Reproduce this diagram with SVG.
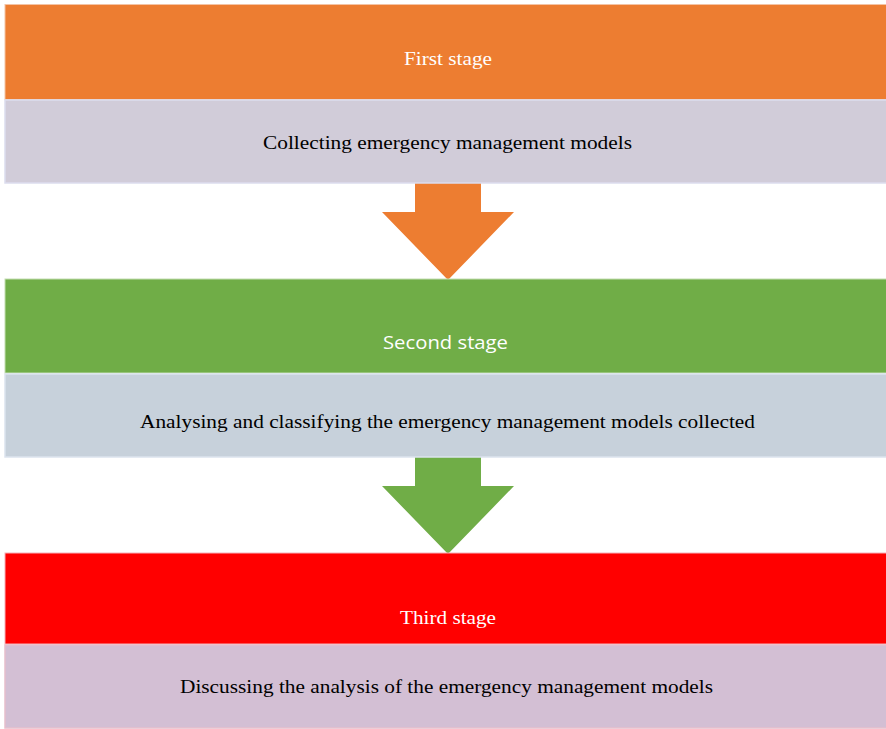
<svg xmlns="http://www.w3.org/2000/svg" width="886" height="729" viewBox="0 0 886 729">
<style>
.t{font-family:"Liberation Serif","Times New Roman",serif;font-size:18.5px;text-anchor:middle}
.s{font-family:"Open Sans","Noto Sans",sans-serif;font-size:19px;text-anchor:middle;fill:#fff}
.w{fill:#fff}
.k{fill:#000}
</style>
<rect width="886" height="729" fill="#fff"/>
<g id="connectors">
<polygon id="arrow1" points="415,183 481,183 481,212 514,212 448,280 382,212 415,212" fill="#ED7D31"/>
<polygon id="arrow2" points="415,457 481,457 481,486 514,486 448,554 382,486 415,486" fill="#70AD47"/>
</g>
<g id="stage1">
<rect x="5" y="4.5" width="885" height="95" fill="#ED7D31" stroke="#F4C3A4" stroke-width="1"/>
<text class="t w" x="448" y="65" textLength="88" lengthAdjust="spacingAndGlyphs">First stage</text>
</g>
<g id="step1">
<rect x="5" y="100" width="885" height="83" fill="#D1CCD9" stroke="#DCDDEE" stroke-width="1.5"/>
<text class="t k" x="447.5" y="149" textLength="369" lengthAdjust="spacingAndGlyphs">Collecting emergency management models</text>
</g>
<g id="stage2">
<rect x="5" y="279" width="885" height="94" fill="#70AD47" stroke="#C3DDB2" stroke-width="1"/>
<text class="s" x="445.5" y="349" textLength="125" lengthAdjust="spacingAndGlyphs">Second stage</text>
</g>
<g id="step2">
<rect x="5" y="374" width="885" height="83" fill="#C7D1DB" stroke="#DCE3EE" stroke-width="1.5"/>
<text class="t k" x="447.5" y="428" textLength="615" lengthAdjust="spacingAndGlyphs">Analysing and classifying the emergency management models collected</text>
</g>
<g id="stage3">
<rect x="5" y="553" width="885" height="91" fill="#FF0000" stroke="#F6B0B8" stroke-width="1"/>
<text class="t w" x="448" y="624" textLength="96" lengthAdjust="spacingAndGlyphs">Third stage</text>
</g>
<g id="step3">
<rect x="5" y="645" width="885" height="83" fill="#D3BFD4" stroke="#E6BFCC" stroke-width="1.5"/>
<text class="t k" x="446.5" y="693" textLength="533" lengthAdjust="spacingAndGlyphs">Discussing the analysis of the emergency management models</text>
</g>
</svg>
